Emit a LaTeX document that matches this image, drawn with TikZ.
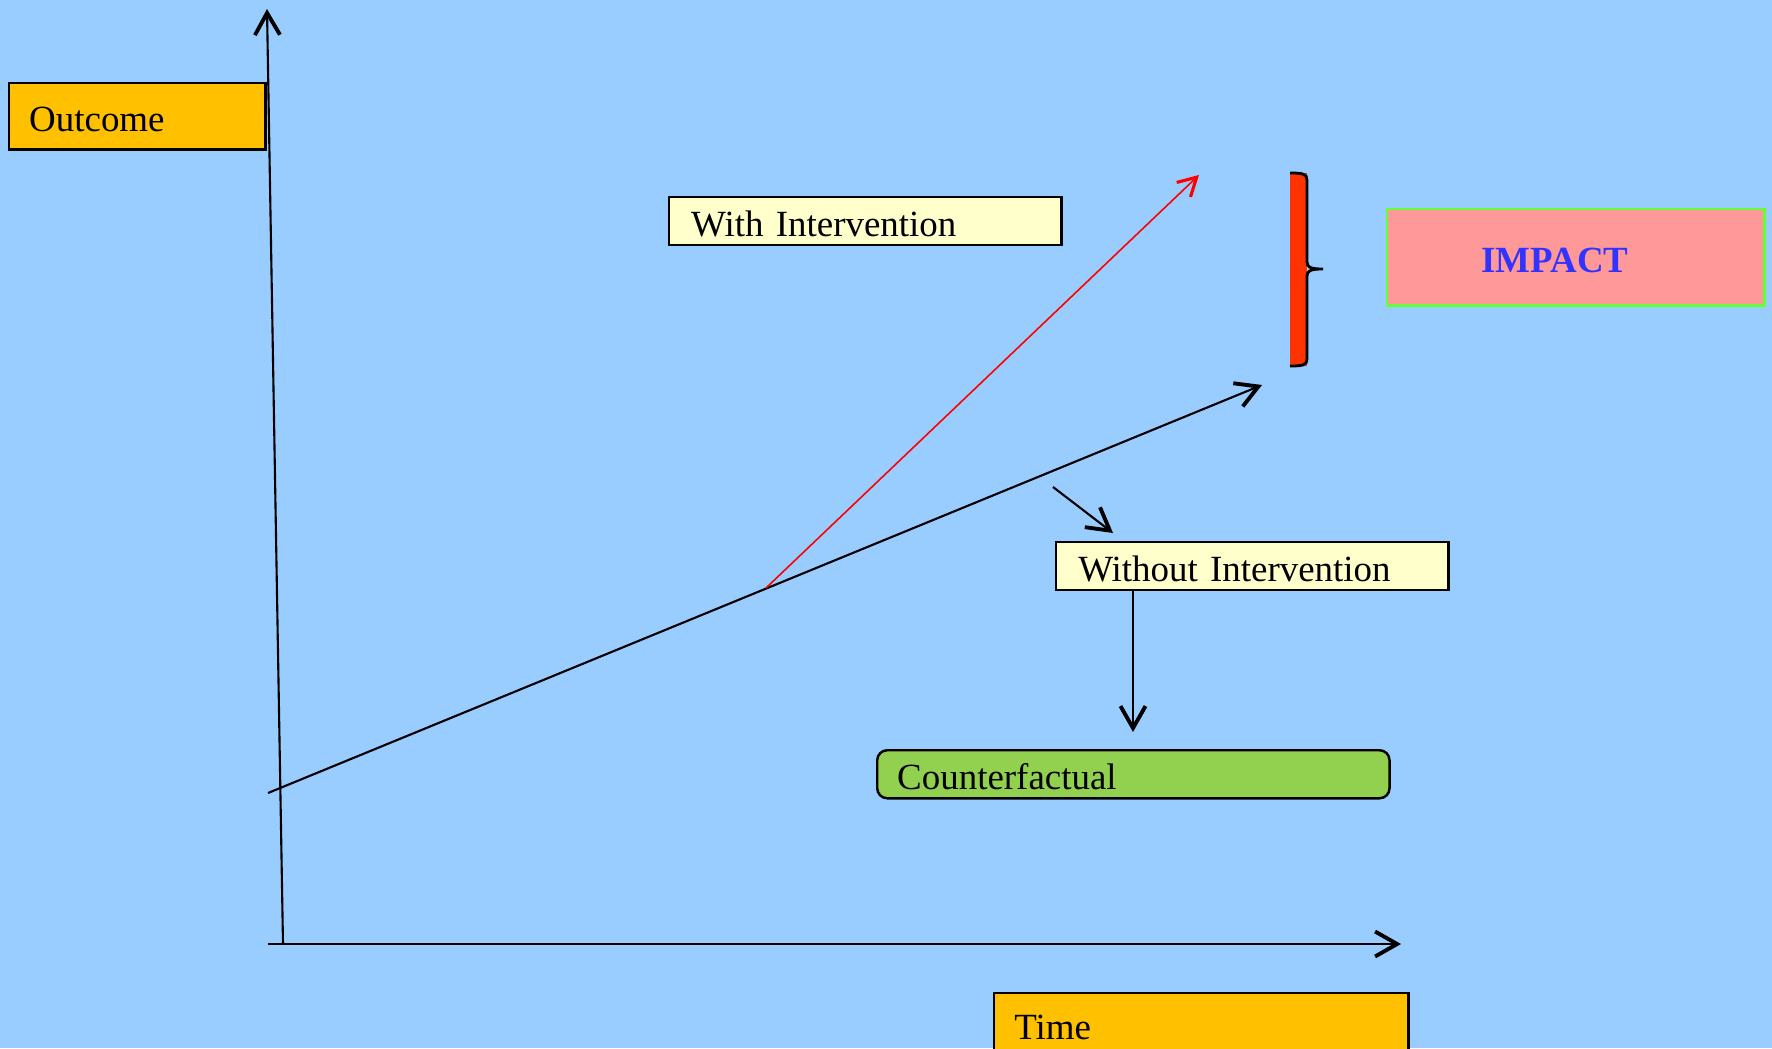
\documentclass[tikz,border=0pt]{standalone}
\usepackage{fontspec}
\setmainfont{Liberation Serif}
\usepackage{tikz}
\usetikzlibrary{arrows.meta,positioning,calc}

\definecolor{slidebg}{HTML}{99CCFF}
\definecolor{axisorange}{HTML}{FFC000}
\definecolor{labelyellow}{HTML}{FFFFCC}
\definecolor{cfgreen}{HTML}{92D050}
\definecolor{impactpink}{HTML}{FF9999}
\definecolor{impactedge}{HTML}{66FF33}
\definecolor{impactblue}{HTML}{3333FF}
\definecolor{bracered}{HTML}{FF3300}

\begin{document}
\begin{tikzpicture}[
    x=0.01cm, y=-0.01cm,
    box/.style={rectangle, draw, anchor=north west, align=left, inner ysep=0pt, text height=8.9pt, text depth=0pt, line width=0.7pt, font=\fontsize{10.5pt}{12pt}\selectfont},
    axislabel/.style={box, fill=axisorange},
    curvelabel/.style={box, fill=labelyellow, minimum height=0.48cm, inner xsep=0.22cm, text width=3.48cm},
    arrow/.style={-{Straight Barb[length=2.2mm, width=2.5mm, line width=1.1pt]}, line width=0.6pt},
  ]
    \fill[slidebg] (0,0) rectangle (1772,1048);
    \useasboundingbox (0,0) rectangle (1772,1048);

    \node[axislabel, minimum height=0.66cm, inner xsep=0.2cm, text width=2.16cm] (outcome) at (8,82) {Outcome};
    \node[axislabel, minimum height=0.62cm, inner xsep=0.2cm, text width=3.74cm] (time) at (993,992) {Time};
    \node[curvelabel] (withlbl) at (668,196) {With Intervention};
    \node[curvelabel] (withoutlbl) at (1055,541) {Without Intervention};
    \node[box, fill=cfgreen, rounded corners=0.1cm, minimum height=0.48cm, inner xsep=0.2cm, text width=4.72cm] (counter) at (876,749) {Counterfactual};
    \node[box, fill=impactpink, draw=impactedge, minimum height=0.96cm, inner xsep=0.94cm, text width=1.89cm, font=\fontsize{10.5pt}{12pt}\selectfont\bfseries, text=impactblue] (impact) at (1386,208) {IMPACT};

    \coordinate (xstart) at (268,944);
    \coordinate (xend) at (1401,944);
    \coordinate (ybottom) at (283,944);
    \coordinate (ytop) at (267,9);
    \coordinate (base) at (268,793);
    \coordinate (split) at (766,588);
    \coordinate (withend) at (1199,175);
    \coordinate (withoutend) at (1262,385);
    \coordinate (pointer) at (1053,487);
    \coordinate (pointerend) at (1113,533);
    \coordinate (cfarrow) at (1133,732);

    \draw[arrow] (xstart) -- (xend);
    \draw[arrow] (ybottom) -- (ytop);
    \draw[arrow] (base) -- (withoutend);
    \draw[arrow, red, line width=0.45pt, -{Straight Barb[length=1.8mm, width=2mm, line width=0.9pt]}] (split) -- (withend);
    \draw[arrow] (pointer) -- (pointerend);
    \draw[arrow] (withoutlbl.south -| cfarrow) -- (cfarrow);

    \fill[bracered] (1290,173) rectangle (1307,366);
    \draw[line width=0.8pt] (1290,173) .. controls (1303,173) and (1307,174) .. (1307,180) -- (1307,262)
      .. controls (1307,267) and (1310,269) .. (1323,269)
      .. controls (1310,269) and (1307,271) .. (1307,276) -- (1307,359)
      .. controls (1307,365) and (1303,366) .. (1290,366);
  \end{tikzpicture}
\end{document}
